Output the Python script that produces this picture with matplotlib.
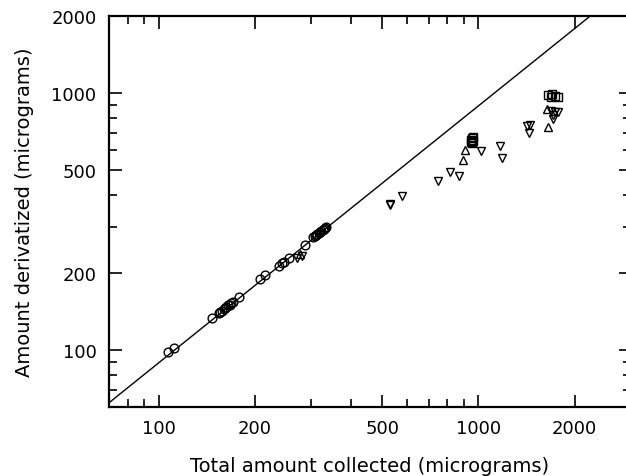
import matplotlib
matplotlib.use("Agg")
import matplotlib.pyplot as plt
from matplotlib.ticker import FixedLocator, NullFormatter

# open circles, along the line
circ_x = [107, 112, 147, 154, 156, 158, 160, 161, 163, 165, 167, 169, 171, 178,
          208, 215, 238, 243, 247, 256, 286,
          305, 308, 311, 314, 317, 320, 323, 326, 329, 332, 335]
circ_y = [98, 102, 133, 139, 140, 142, 144, 146, 147, 149, 150, 152, 154, 161,
          188, 195, 213, 218, 220, 228, 257,
          275, 277, 280, 283, 285, 288, 291, 293, 296, 299, 301]

# triangles pointing down
tdown_x = [270, 281, 528, 531, 578, 750, 813, 868, 1022, 1172, 1181,
           1420, 1450, 1440, 1692, 1735, 1772, 1705, 1712]
tdown_y = [228, 231, 366, 370, 397, 454, 492, 473, 594, 619, 558,
           745, 748, 700, 853, 840, 840, 817, 793]

# triangles pointing up
tup_x = [277, 895, 909, 1633, 1650]
tup_y = [236, 548, 601, 862, 734]

# squares
sq_x = [945, 950, 955, 960, 965, 958, 1650, 1700, 1740, 1770, 1690]
sq_y = [645, 655, 665, 675, 650, 640, 985, 990, 975, 960, 960]

# reference line y = k * x
line_k = 0.89
line_x = [60, 4000]

fig = plt.figure(figsize=(6.26, 4.77), dpi=100)
ax = fig.add_axes([0.1741, 0.1447, 0.8339, 0.8207])

ax.plot(line_x, [line_k * v for v in line_x], color="black", lw=1.0)
mk = dict(ls="none", mfc="none", mec="black", mew=1.0)
ax.plot(circ_x, circ_y, marker="o", ms=6.3, **mk)
ax.plot(tdown_x, tdown_y, marker="v", ms=6, **mk)
ax.plot(tup_x, tup_y, marker="^", ms=6, **mk)
ax.plot(sq_x, sq_y, marker="s", ms=6, **mk)

ax.set_xscale("log")
ax.set_yscale("log")
ax.set_xlim(70, 3000)
ax.set_ylim(60, 2000)

xmaj = [100, 200, 500, 1000, 2000]
xmin = [70, 80, 90, 300, 400, 600, 700, 800, 900, 3000]
ymaj = [100, 200, 500, 1000, 2000]
ymin = [60, 70, 80, 90, 300, 400, 600, 700, 800, 900]
ax.xaxis.set_major_locator(FixedLocator(xmaj))
ax.xaxis.set_minor_locator(FixedLocator(xmin))
ax.yaxis.set_major_locator(FixedLocator(ymaj))
ax.yaxis.set_minor_locator(FixedLocator(ymin))
ax.set_xticklabels([str(v) for v in xmaj])
ax.set_yticklabels([str(v) for v in ymaj])
ax.xaxis.set_minor_formatter(NullFormatter())
ax.yaxis.set_minor_formatter(NullFormatter())

ax.tick_params(which="both", direction="in", top=True, right=True,
               width=1.2, labelsize=13)
ax.tick_params(which="major", length=9, pad=9)
ax.tick_params(which="minor", length=5.5)
for s in ax.spines.values():
    s.set_linewidth(1.6)

ax.set_xlabel("Total amount collected (micrograms)", fontsize=14, va="center")
ax.set_ylabel("Amount derivatized (micrograms)", fontsize=14, va="center")
ax.xaxis.set_label_coords(0.5, -0.1507)
ax.yaxis.set_label_coords(-0.161, 0.5)

fig.savefig("out.png", dpi=100)
